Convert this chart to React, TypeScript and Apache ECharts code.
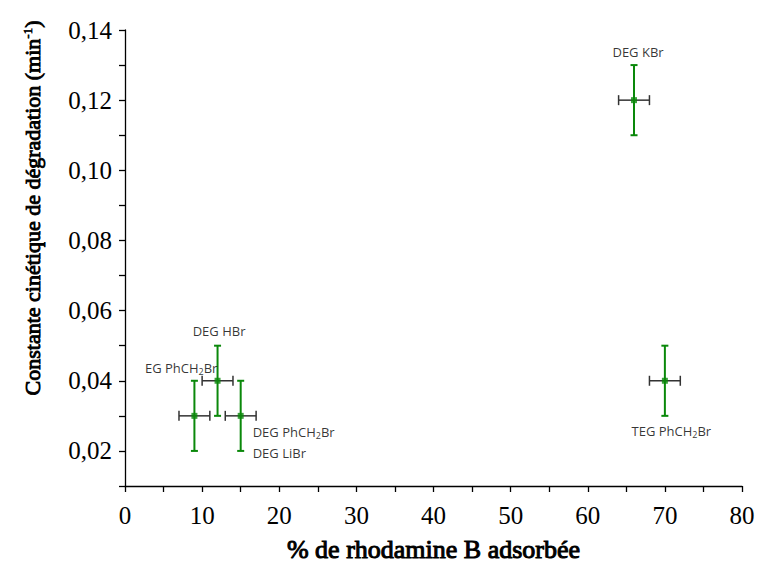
import React, { useEffect, useRef } from "react";
import * as echarts from "echarts";

const names = ["EG PhCH{s|2}Br", "DEG HBr", "DEG PhCH{s|2}Br\nDEG LiBr", "DEG KBr", "TEG PhCH{s|2}Br"];
const xValues = [9, 12, 15, 66, 70];
const yValues = [0.03, 0.04, 0.03, 0.12, 0.04];
const xErrors = [2, 2, 2, 2, 2];
const yErrors = [0.01, 0.01, 0.01, 0.01, 0.01];
const labelOffsets: [number, number, string][] = [
  [23, -48, "right"],
  [1.5, -50, "center"],
  [12, 26.5, "left"],
  [4, -48, "center"],
  [6.5, 50, "center"],
];

const GREEN = "#0a880a";
const SERIF = "Liberation Serif";

export default function App() {
  const ref = useRef<HTMLDivElement>(null);
  useEffect(() => {
    if (!ref.current) return;
    const chart = echarts.init(ref.current, undefined, { renderer: "svg" });
    const errData = xValues.map((x, i) => [x, yValues[i], xErrors[i], yErrors[i]]);
    const ptData = xValues.map((x, i) => ({
      value: [x, yValues[i]],
      label: {
        show: true,
        position: "inside",
        formatter: names[i],
        offset: [labelOffsets[i][0], labelOffsets[i][1]],
        align: labelOffsets[i][2],
      },
    }));
    chart.setOption({
      animation: false,
      grid: { left: 125, right: 17, top: 30, bottom: 83 },
      xAxis: {
        type: "value",
        min: 0,
        max: 80,
        interval: 5,
        splitLine: { show: false },
        axisLine: { onZero: false, lineStyle: { color: "#000", width: 1.3 } },
        axisTick: { length: 6, lineStyle: { color: "#000", width: 1.3 } },
        axisLabel: {
          margin: 17,
          color: "#000",
          fontFamily: SERIF,
          fontSize: 25,
          formatter: (v: number) => (Math.round(v) % 10 === 0 ? String(v) : ""),
        },
        name: "% de rhodamine B adsorbée",
        nameLocation: "middle",
        nameGap: 50,
        nameTextStyle: {
          color: "#000",
          fontFamily: SERIF,
          fontSize: 26,
          textBorderColor: "#000",
          textBorderWidth: 1,
        },
      },
      yAxis: {
        type: "value",
        min: 0.01,
        max: 0.14,
        interval: 0.01,
        splitLine: { show: false },
        axisLine: { show: true, onZero: false, lineStyle: { color: "#000", width: 1.3 } },
        axisTick: { show: true, length: 6, lineStyle: { color: "#000", width: 1.3 } },
        axisLabel: {
          margin: 13,
          color: "#000",
          fontFamily: SERIF,
          fontSize: 25,
          formatter: (v: number) => {
            const k = Math.round(v * 100);
            return k % 2 === 0 ? v.toFixed(2).replace(".", ",") : "";
          },
        },
      },
      graphic: [
        {
          type: "text",
          x: 32,
          y: 208,
          rotation: Math.PI / 2,
          style: {
            text: "Constante cinétique de dégradation (min{sup|-1})",
            fill: "#000",
            fontFamily: SERIF,
            fontSize: 22,
            stroke: "#000",
            lineWidth: 0.9,
            align: "center",
            verticalAlign: "middle",
            rich: {
              sup: { fontFamily: SERIF, fontSize: 13, padding: [0, 0, 9, 0], fill: "#000", stroke: "#000", lineWidth: 0.6 },
            },
          },
        },
      ],
      series: [
        {
          type: "custom",
          data: errData,
          z: 2,
          renderItem: (params: any, api: any) => {
            const x = api.value(0), y = api.value(1), ex = api.value(2), ey = api.value(3);
            const l = api.coord([x - ex, y]);
            const r = api.coord([x + ex, y]);
            const t = api.coord([x, y + ey]);
            const b = api.coord([x, y - ey]);
            const hs = { stroke: "#333", lineWidth: 1.5 };
            const vs = { stroke: GREEN, lineWidth: 2 };
            return {
              type: "group",
              children: [
                { type: "line", shape: { x1: l[0], y1: l[1], x2: r[0], y2: r[1] }, style: hs },
                { type: "line", shape: { x1: l[0], y1: l[1] - 5, x2: l[0], y2: l[1] + 5 }, style: hs },
                { type: "line", shape: { x1: r[0], y1: r[1] - 5, x2: r[0], y2: r[1] + 5 }, style: hs },
                { type: "line", shape: { x1: t[0], y1: t[1], x2: b[0], y2: b[1] }, style: vs },
                { type: "line", shape: { x1: t[0] - 3.5, y1: t[1], x2: t[0] + 3.5, y2: t[1] }, style: vs },
                { type: "line", shape: { x1: b[0] - 3.5, y1: b[1], x2: b[0] + 3.5, y2: b[1] }, style: vs },
              ],
            };
          },
        },
        {
          type: "scatter",
          z: 3,
          symbol: "rect",
          symbolSize: 6,
          itemStyle: { color: GREEN },
          data: ptData,
          label: {
            color: "#000",
            fontFamily: "Open Sans",
            fontSize: 13,
            lineHeight: 21,
            rich: {
              s: { fontSize: 9, fontFamily: "Open Sans", color: "#000", padding: [7, 0, 0, 0] },
            },
          },
        },
      ],
    });
    return () => chart.dispose();
  }, []);
  return <div ref={ref} style={{ width: 759, height: 569, position: "absolute", left: 0, top: 0, background: "#fff" }} />;
}
